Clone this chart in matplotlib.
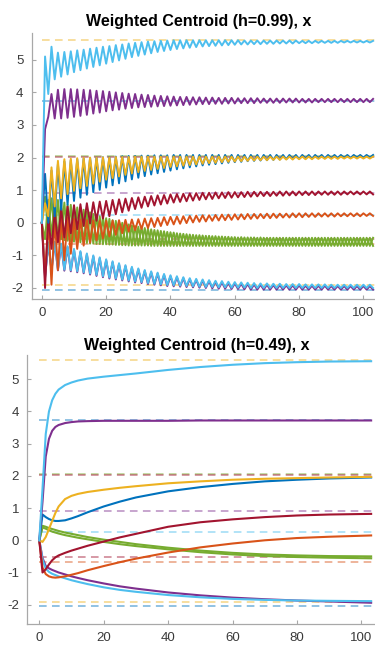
import numpy as np
import matplotlib.pyplot as plt

plt.rcParams['font.family'] = ['Liberation Sans', 'DejaVu Sans']
plt.rcParams['axes.unicode_minus'] = False

# MATLAB default palette
BLUE = '#0072BD'
ORANGE = '#D95319'
YELLOW = '#EDB120'
PURPLE = '#7E2F8E'
GREEN = '#77AC30'
CYAN = '#4DBEEE'
RED = '#A2142F'

# ============================
# target (dashed) levels, same in both panels
# ============================
target_vals = [5.60, 3.74, 2.06, 2.02, 0.90, 0.25, -0.51, -0.66, -1.91, -2.05]
target_cols = [YELLOW, BLUE, GREEN, RED, PURPLE, CYAN, RED, ORANGE, YELLOW, BLUE]

# ============================
# h=0.99 : values at even steps (0,2,...,102) and odd steps (1,3,...,103)
# ============================
steps_top = np.arange(104)

cyan1_even = [0.00, 3.95, 4.40, 4.48, 4.55, 4.62, 4.68, 4.73, 4.78, 4.83, 4.88, 4.93, 4.98,
              5.03, 5.08, 5.12, 5.16, 5.20, 5.24, 5.27, 5.30, 5.33, 5.35, 5.37, 5.39, 5.41,
              5.42, 5.43, 5.44, 5.45, 5.46, 5.47, 5.47, 5.48, 5.48, 5.49, 5.49, 5.50, 5.50,
              5.50, 5.51, 5.51, 5.51, 5.52, 5.52, 5.52, 5.52, 5.53, 5.53, 5.53, 5.53, 5.53]
cyan1_odd = [5.10, 5.40, 5.22, 5.24, 5.26, 5.29, 5.31, 5.34, 5.37, 5.40, 5.42, 5.45, 5.47,
             5.50, 5.52, 5.54, 5.56, 5.57, 5.58, 5.59, 5.60, 5.60, 5.60, 5.60, 5.60, 5.60,
             5.60, 5.60, 5.60, 5.60, 5.60, 5.59, 5.59, 5.59, 5.59, 5.59, 5.59, 5.59, 5.59,
             5.59, 5.58, 5.58, 5.58, 5.58, 5.58, 5.58, 5.58, 5.58, 5.58, 5.58, 5.58, 5.58]

purple1_even = [0.00, 3.25, 3.20, 3.20, 3.22, 3.25, 3.28, 3.31, 3.35, 3.38, 3.42, 3.45, 3.47,
                3.50, 3.52, 3.54, 3.55, 3.56, 3.57, 3.58, 3.59, 3.60, 3.61, 3.62, 3.63, 3.64,
                3.64, 3.65, 3.65, 3.66, 3.66, 3.67, 3.67, 3.67, 3.68, 3.68, 3.68, 3.68, 3.69,
                3.69, 3.69, 3.69, 3.69, 3.70, 3.70, 3.70, 3.70, 3.70, 3.70, 3.70, 3.70, 3.70]
purple1_odd = [2.87, 3.95, 4.08, 4.10, 4.10, 4.09, 4.08, 4.07, 4.05, 4.04, 4.02, 4.00, 3.98,
               3.96, 3.95, 3.93, 3.92, 3.90, 3.89, 3.88, 3.87, 3.86, 3.86, 3.85, 3.85, 3.84,
               3.84, 3.83, 3.83, 3.83, 3.82, 3.82, 3.82, 3.82, 3.81, 3.81, 3.81, 3.81, 3.81,
               3.81, 3.80, 3.80, 3.80, 3.80, 3.80, 3.80, 3.80, 3.80, 3.80, 3.80, 3.80, 3.80]

yellow_even = [0.00, 0.20, 0.50, 0.75, 0.88, 0.98, 1.06, 1.13, 1.20, 1.26, 1.32, 1.37, 1.42,
               1.47, 1.51, 1.55, 1.59, 1.62, 1.65, 1.68, 1.71, 1.73, 1.75, 1.77, 1.79, 1.81,
               1.83, 1.84, 1.86, 1.87, 1.88, 1.89, 1.90, 1.91, 1.92, 1.92, 1.93, 1.93, 1.94,
               1.94, 1.95, 1.95, 1.95, 1.96, 1.96, 1.96, 1.96, 1.97, 1.97, 1.97, 1.97, 1.97]
yellow_odd = [0.60, 1.70, 1.90, 1.95, 1.97, 1.98, 1.99, 2.00, 2.00, 2.01, 2.01, 2.02, 2.02,
              2.02, 2.03, 2.03, 2.03, 2.03, 2.03, 2.03, 2.03, 2.03, 2.03, 2.03, 2.03, 2.03,
              2.03, 2.03, 2.03, 2.03, 2.03, 2.03, 2.03, 2.03, 2.03, 2.03, 2.03, 2.03, 2.03,
              2.03, 2.03, 2.03, 2.03, 2.03, 2.03, 2.03, 2.03, 2.03, 2.03, 2.03, 2.03, 2.03]

blue_even = [0.00, 0.00, 0.20, 0.40, 0.55, 0.67, 0.77, 0.86, 0.94, 1.01, 1.08, 1.15, 1.21,
             1.27, 1.33, 1.38, 1.43, 1.48, 1.52, 1.56, 1.60, 1.64, 1.67, 1.70, 1.73, 1.76,
             1.78, 1.80, 1.82, 1.84, 1.86, 1.87, 1.89, 1.90, 1.91, 1.92, 1.93, 1.94, 1.95,
             1.96, 1.96, 1.97, 1.97, 1.98, 1.98, 1.98, 1.99, 1.99, 1.99, 2.00, 2.00, 2.00]
blue_odd = [1.50, 1.60, 1.80, 1.88, 1.92, 1.95, 1.97, 1.99, 2.00, 2.01, 2.02, 2.03, 2.04,
            2.05, 2.05, 2.06, 2.06, 2.07, 2.07, 2.07, 2.08, 2.08, 2.08, 2.08, 2.08, 2.08,
            2.08, 2.08, 2.08, 2.08, 2.08, 2.08, 2.08, 2.08, 2.08, 2.08, 2.08, 2.08, 2.08,
            2.08, 2.08, 2.08, 2.08, 2.08, 2.08, 2.08, 2.08, 2.08, 2.08, 2.08, 2.08, 2.08]

red_even = [0.00, 0.20, 0.35, 0.45, 0.50, 0.54, 0.57, 0.60, 0.63, 0.65, 0.67, 0.70, 0.72,
            0.74, 0.76, 0.78, 0.80, 0.82, 0.84, 0.85, 0.87, 0.88, 0.89, 0.90, 0.91, 0.92,
            0.92, 0.93, 0.93, 0.94, 0.94, 0.94, 0.95, 0.95, 0.95, 0.95, 0.95, 0.96, 0.96,
            0.96, 0.96, 0.96, 0.96, 0.96, 0.96, 0.96, 0.96, 0.96, 0.96, 0.96, 0.96, 0.96]
red_odd = [-2.00, -0.80, -0.60, -0.45, -0.32, -0.20, -0.10, -0.02, 0.06, 0.13, 0.20, 0.26, 0.32,
           0.37, 0.42, 0.46, 0.50, 0.53, 0.56, 0.59, 0.62, 0.64, 0.66, 0.68, 0.70, 0.72,
           0.73, 0.75, 0.76, 0.77, 0.78, 0.79, 0.80, 0.81, 0.82, 0.82, 0.83, 0.83, 0.84,
           0.84, 0.85, 0.85, 0.85, 0.86, 0.86, 0.86, 0.86, 0.87, 0.87, 0.87, 0.87, 0.87]

orange_even = [0.00, 0.10, 0.15, 0.18, 0.15, 0.12, 0.10, 0.08, 0.07, 0.06, 0.06, 0.07, 0.08,
               0.09, 0.10, 0.11, 0.13, 0.14, 0.15, 0.17, 0.18, 0.19, 0.20, 0.21, 0.22, 0.23,
               0.23, 0.24, 0.25, 0.25, 0.26, 0.26, 0.27, 0.27, 0.27, 0.28, 0.28, 0.28, 0.28,
               0.29, 0.29, 0.29, 0.29, 0.29, 0.29, 0.29, 0.29, 0.29, 0.29, 0.29, 0.29, 0.29]
orange_odd = [-1.60, -1.90, -1.45, -1.15, -0.95, -0.80, -0.70, -0.61, -0.54, -0.48, -0.42, -0.37, -0.32,
              -0.27, -0.23, -0.19, -0.16, -0.13, -0.10, -0.07, -0.05, -0.03, -0.01, 0.01, 0.03, 0.04,
              0.06, 0.07, 0.08, 0.09, 0.10, 0.11, 0.12, 0.13, 0.14, 0.14, 0.15, 0.16, 0.16,
              0.17, 0.17, 0.18, 0.18, 0.19, 0.19, 0.19, 0.20, 0.20, 0.20, 0.20, 0.21, 0.21]

green1_even = [0.00, -0.30, -0.45, -0.50, -0.55, -0.58, -0.60, -0.62, -0.64, -0.65, -0.66, -0.67, -0.68,
               -0.69, -0.70, -0.70, -0.70, -0.71, -0.71, -0.71, -0.71, -0.71, -0.71, -0.71, -0.71, -0.71,
               -0.71, -0.71, -0.71, -0.71, -0.71, -0.71, -0.71, -0.71, -0.71, -0.71, -0.71, -0.71, -0.71,
               -0.71, -0.71, -0.71, -0.71, -0.71, -0.71, -0.71, -0.71, -0.71, -0.71, -0.71, -0.71, -0.71]
green1_odd = [0.80, 0.75, 0.70, 0.62, 0.55, 0.47, 0.40, 0.32, 0.25, 0.18, 0.12, 0.06, 0.00,
              -0.05, -0.10, -0.14, -0.18, -0.22, -0.25, -0.28, -0.30, -0.33, -0.35, -0.37, -0.38, -0.40,
              -0.41, -0.42, -0.43, -0.44, -0.45, -0.45, -0.45, -0.46, -0.46, -0.46, -0.46, -0.46, -0.46,
              -0.46, -0.46, -0.46, -0.46, -0.46, -0.46, -0.46, -0.46, -0.46, -0.46, -0.46, -0.46, -0.46]

green2_even = [0.00, 0.70, 0.68, 0.62, 0.55, 0.48, 0.41, 0.34, 0.27, 0.20, 0.14, 0.08, 0.02,
               -0.03, -0.08, -0.12, -0.16, -0.20, -0.23, -0.26, -0.29, -0.32, -0.34, -0.36, -0.38, -0.39,
               -0.40, -0.41, -0.42, -0.43, -0.44, -0.44, -0.45, -0.45, -0.45, -0.46, -0.46, -0.46, -0.46,
               -0.46, -0.46, -0.46, -0.46, -0.46, -0.46, -0.46, -0.46, -0.46, -0.46, -0.46, -0.46, -0.46]
green2_odd = [-0.50, -0.40, -0.48, -0.53, -0.57, -0.60, -0.62, -0.64, -0.65, -0.66, -0.67, -0.68, -0.69,
              -0.70, -0.70, -0.70, -0.70, -0.71, -0.71, -0.71, -0.71, -0.71, -0.71, -0.71, -0.71, -0.71,
              -0.71, -0.71, -0.71, -0.71, -0.71, -0.71, -0.71, -0.71, -0.71, -0.71, -0.71, -0.71, -0.71,
              -0.71, -0.71, -0.71, -0.71, -0.71, -0.71, -0.71, -0.71, -0.71, -0.71, -0.71, -0.71, -0.71]

cyan2_even = [0.00, -0.60, -0.58, -0.64, -0.72, -0.80, -0.87, -0.94, -1.00, -1.06, -1.12, -1.18, -1.24,
              -1.30, -1.35, -1.40, -1.45, -1.49, -1.53, -1.57, -1.61, -1.64, -1.67, -1.70, -1.72, -1.74,
              -1.76, -1.78, -1.79, -1.81, -1.82, -1.83, -1.84, -1.85, -1.86, -1.86, -1.87, -1.87, -1.88,
              -1.88, -1.88, -1.89, -1.89, -1.89, -1.89, -1.90, -1.90, -1.90, -1.90, -1.90, -1.90, -1.90]
cyan2_odd = [-1.65, -1.45, -1.43, -1.44, -1.46, -1.49, -1.52, -1.56, -1.60, -1.64, -1.68, -1.71, -1.74,
             -1.77, -1.80, -1.82, -1.85, -1.87, -1.89, -1.91, -1.92, -1.93, -1.94, -1.95, -1.96, -1.97,
             -1.97, -1.98, -1.98, -1.99, -1.99, -1.99, -2.00, -2.00, -2.00, -2.00, -2.00, -2.00, -2.00,
             -2.00, -2.00, -2.00, -2.00, -2.00, -2.00, -2.00, -2.00, -2.00, -2.00, -2.00, -2.00, -2.00]

purple2_even = [0.00, -0.63, -0.61, -0.67, -0.75, -0.83, -0.90, -0.97, -1.03, -1.09, -1.15, -1.21, -1.27,
                -1.33, -1.38, -1.43, -1.48, -1.52, -1.56, -1.60, -1.64, -1.67, -1.70, -1.73, -1.75, -1.77,
                -1.79, -1.81, -1.83, -1.85, -1.86, -1.87, -1.88, -1.89, -1.90, -1.90, -1.91, -1.91, -1.92,
                -1.92, -1.92, -1.93, -1.93, -1.93, -1.93, -1.94, -1.94, -1.94, -1.94, -1.94, -1.94, -1.94]
purple2_odd = [-1.68, -1.48, -1.46, -1.47, -1.49, -1.52, -1.55, -1.59, -1.63, -1.67, -1.71, -1.74, -1.77,
               -1.80, -1.83, -1.85, -1.88, -1.90, -1.92, -1.94, -1.95, -1.96, -1.97, -1.98, -1.99, -2.00,
               -2.01, -2.02, -2.02, -2.03, -2.03, -2.04, -2.05, -2.05, -2.05, -2.05, -2.05, -2.05, -2.05,
               -2.05, -2.05, -2.05, -2.05, -2.05, -2.05, -2.05, -2.05, -2.05, -2.05, -2.05, -2.05, -2.05]

# ============================
# h=0.49 : smooth trajectories, sampled at these steps
# ============================
steps_bot = [0, 1, 2, 3, 4, 5, 6, 8, 10, 12, 15, 20, 25, 30, 40, 50, 60, 70, 80, 90, 103]

cyan1_b = [0.00, 1.60, 3.30, 4.00, 4.35, 4.55, 4.68, 4.82, 4.90, 4.96, 5.02, 5.08, 5.13, 5.18,
           5.29, 5.38, 5.45, 5.50, 5.53, 5.55, 5.56]
purple1_b = [0.00, 1.20, 2.60, 3.15, 3.40, 3.52, 3.58, 3.64, 3.67, 3.69, 3.70, 3.71, 3.71, 3.71,
             3.71, 3.72, 3.72, 3.72, 3.72, 3.72, 3.72]
yellow_b = [0.00, -0.05, 0.10, 0.35, 0.60, 0.85, 1.05, 1.28, 1.38, 1.44, 1.50, 1.57, 1.63, 1.68,
            1.77, 1.83, 1.88, 1.91, 1.93, 1.95, 1.97]
blue_b = [0.00, 0.80, 0.72, 0.66, 0.62, 0.60, 0.60, 0.62, 0.68, 0.75, 0.87, 1.05, 1.20, 1.33,
          1.52, 1.65, 1.75, 1.83, 1.88, 1.92, 1.95]
red_b = [0.00, -1.00, -0.90, -0.75, -0.62, -0.53, -0.47, -0.39, -0.32, -0.26, -0.17, -0.04, 0.09,
         0.20, 0.42, 0.56, 0.65, 0.72, 0.77, 0.80, 0.82]
orange_b = [0.00, -0.85, -1.05, -1.12, -1.15, -1.16, -1.15, -1.12, -1.07, -1.02, -0.93, -0.80, -0.68,
            -0.57, -0.38, -0.22, -0.10, 0.00, 0.07, 0.11, 0.15]
green1_b = [0.00, 0.45, 0.42, 0.38, 0.35, 0.32, 0.29, 0.24, 0.20, 0.16, 0.10, 0.02, -0.05, -0.12,
            -0.23, -0.32, -0.39, -0.44, -0.47, -0.49, -0.50]
green2_b = [0.00, 0.40, 0.36, 0.31, 0.27, 0.24, 0.21, 0.16, 0.12, 0.08, 0.03, -0.05, -0.12, -0.18,
            -0.28, -0.37, -0.44, -0.49, -0.52, -0.54, -0.56]
purple2_b = [0.00, -0.55, -0.80, -0.87, -0.92, -0.96, -1.00, -1.06, -1.12, -1.17, -1.24, -1.34, -1.43,
             -1.50, -1.62, -1.71, -1.78, -1.83, -1.87, -1.90, -1.94]
cyan2_b = [0.00, -0.60, -0.88, -0.98, -1.04, -1.08, -1.12, -1.18, -1.24, -1.29, -1.36, -1.46, -1.54,
           -1.60, -1.70, -1.77, -1.82, -1.85, -1.87, -1.88, -1.89]

xticks = [0, 20, 40, 60, 80, 100]
yticks = [-2, -1, 0, 1, 2, 3, 4, 5]


def zigzag(even, odd):
    # put even-step and odd-step values back in step order
    y = np.empty(len(even) + len(odd))
    y[0::2] = even
    y[1::2] = odd
    return y


def style_axes(ax):
    for s in ['top', 'right']:
        ax.spines[s].set_visible(False)
    for s in ['left', 'bottom']:
        ax.spines[s].set_color('#a8a8a8')
        ax.spines[s].set_linewidth(0.9)
    ax.set_xticks(xticks)
    ax.set_yticks(yticks)
    ax.tick_params(direction='in', length=3, width=0.8, color='#a8a8a8',
                   labelcolor='#3a3a3a', labelsize=9.5, pad=6)


def draw_targets(ax, x_end):
    for v, c in zip(target_vals, target_cols):
        ax.plot([0, x_end], [v, v], '--', color=c, lw=1.1, alpha=0.55,
                dashes=(5, 3.5), zorder=1)


fig = plt.figure(figsize=(3.75, 6.48), dpi=100)

# ---- top panel ----
ax1 = fig.add_axes([0.085, 0.539, 0.915, 0.41])
draw_targets(ax1, 104)
top_series = [
    (purple2_even, purple2_odd, PURPLE),
    (cyan2_even, cyan2_odd, CYAN),
    (green1_even, green1_odd, GREEN),
    (green2_even, green2_odd, GREEN),
    (orange_even, orange_odd, ORANGE),
    (red_even, red_odd, RED),
    (blue_even, blue_odd, BLUE),
    (yellow_even, yellow_odd, YELLOW),
    (purple1_even, purple1_odd, PURPLE),
    (cyan1_even, cyan1_odd, CYAN),
]
for ev, od, c in top_series:
    ax1.plot(steps_top, zigzag(ev, od), color=c, lw=1.4, zorder=2)
ax1.set_xlim(-3.1, 103.6)
ax1.set_ylim(-2.33, 5.82)
style_axes(ax1)
ax1.set_title('Weighted Centroid (h=0.99), x', fontsize=11.5, fontweight='bold',
              x=0.485, pad=5)

# ---- bottom panel ----
ax2 = fig.add_axes([0.073, 0.037, 0.927, 0.415])
draw_targets(ax2, 104)
bot_series = [
    (purple2_b, PURPLE), (cyan2_b, CYAN), (green1_b, GREEN), (green2_b, GREEN),
    (orange_b, ORANGE), (red_b, RED), (blue_b, BLUE), (yellow_b, YELLOW),
    (purple1_b, PURPLE), (cyan1_b, CYAN),
]
for ys, c in bot_series:
    ax2.plot(steps_bot, ys, color=c, lw=1.5, zorder=2)
ax2.set_xlim(-3.7, 104.2)
ax2.set_ylim(-2.6, 5.75)
style_axes(ax2)
ax2.set_title('Weighted Centroid (h=0.49), x', fontsize=11.5, fontweight='bold',
              x=0.488, pad=4)

fig.savefig('out.png', dpi=100)
